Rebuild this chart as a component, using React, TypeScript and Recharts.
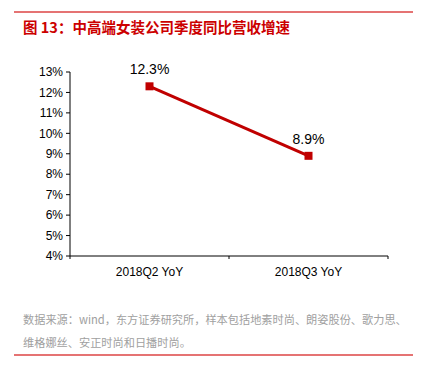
import React from 'react';
import { LineChart, Line, XAxis, YAxis, LabelList } from 'recharts';

const categories = ['2018Q2 YoY', '2018Q3 YoY'];
const growth = [12.3, 8.9];
const yTicks = [4, 5, 6, 7, 8, 9, 10, 11, 12, 13];

const data = categories.map((name, i) => ({ name, value: growth[i] }));

const fontFamily = 'Liberation Sans, Arial, sans-serif';

// category label + tick marks on the band edges (like excel)
const CategoryTick = ({ x, y, payload, index }: any) => {
    const half = payload.offset || 0;
    return (
        <g>
            {index === 0 && <line x1={x - half} y1={y} x2={x - half} y2={y + 3} stroke="#000" />}
            <line x1={x + half} y1={y} x2={x + half} y2={y + 3} stroke="#000" />
            <text x={x} y={y + 20} textAnchor="middle" fontSize={12} fill="#000" fontFamily={fontFamily}>
                {payload.value}
            </text>
        </g>
    );
};

export default function App() {
    return (
        <div style={{ position: 'absolute', left: 0, top: 0, width: 423, height: 366, background: '#fff', fontFamily: '"Noto Sans CJK SC", sans-serif' }}>
            <div style={{ position: 'absolute', left: 14, top: 11, width: 399, height: 2, background: '#e57373' }} />
            <div style={{ position: 'absolute', left: 23, top: 16, fontSize: 14.5, fontWeight: 'bold', color: '#cc0000', lineHeight: '22px' }}>
                图 13：中高端女装公司季度同比营收增速
            </div>
            <div style={{ position: 'absolute', left: 0, top: 0 }}>
                <LineChart width={423} height={290} data={data} margin={{ top: 72, right: 35, bottom: 4, left: 0 }}>
                    <XAxis
                        dataKey="name"
                        scale="band"
                        axisLine={{ stroke: '#000' }}
                        tickLine={false}
                        tick={<CategoryTick />}
                        tickSize={0}
                        tickMargin={0}
                        height={30}
                    />
                    <YAxis
                        width={70}
                        domain={[4, 13]}
                        ticks={yTicks}
                        tickFormatter={(v: number) => `${v}%`}
                        tick={{ fontSize: 12, fill: '#000', fontFamily }}
                        axisLine={{ stroke: '#000' }}
                        tickLine={{ stroke: '#000' }}
                        tickSize={4}
                        tickMargin={3}
                        interval={0}
                    />
                    <Line
                        dataKey="value"
                        stroke="#c00000"
                        strokeWidth={3}
                        isAnimationActive={false}
                        dot={({ cx, cy, index }: any) => (
                            <rect key={index} x={cx - 4} y={cy - 4} width={8} height={8} fill="#c00000" />
                        )}
                    >
                        <LabelList
                            dataKey="value"
                            position="top"
                            offset={12}
                            formatter={(v: number) => `${v}%`}
                            style={{ fontSize: 14, fill: '#000', fontFamily }}
                        />
                    </Line>
                </LineChart>
            </div>
            <div style={{ position: 'absolute', left: 23, top: 308, fontSize: 11.2, color: '#a0a0a0', lineHeight: '23px' }}>
                <div>数据来源：wind，东方证券研究所，样本包括地素时尚、朗姿股份、歌力思、</div>
                <div>维格娜丝、安正时尚和日播时尚。</div>
            </div>
            <div style={{ position: 'absolute', left: 14, top: 354, width: 399, height: 2, background: '#e57373' }} />
        </div>
    );
}
